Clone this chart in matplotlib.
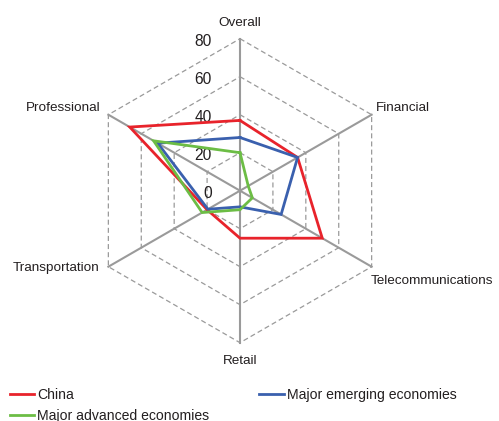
import numpy as np
import matplotlib
matplotlib.use("Agg")
import matplotlib.pyplot as plt

categories = ["Overall", "Financial", "Telecommunications", "Retail", "Transportation", "Professional"]
china = [37, 35, 50, 25, 20, 67]
emerging = [28, 35, 25, 8.5, 19.5, 50]
advanced = [20, 5, 7.5, 10, 23, 52.5]
rticks = [0, 20, 40, 60, 80]
series_names = ["China", "Major emerging economies", "Major advanced economies"]

plt.rcParams['font.family'] = ['Liberation Sans', 'DejaVu Sans']
FS = 9.7
TXT = '#231f20'
GRID = '#9a9a9a'

fig = plt.figure(figsize=(4.99, 4.21), dpi=100)
W, H = 499, 421
cx, cy, R = 240, 190.7, 152
ax = fig.add_axes([(cx - R) / W, (H - cy - R) / H, 2 * R / W, 2 * R / H], projection='polar')
ax.set_theta_zero_location('N')
ax.set_theta_direction(-1)
ax.set_ylim(0, 80)
ax.grid(False)
ax.spines['polar'].set_visible(False)
ax.set_xticks([])
ax.set_yticks([])
ax.patch.set_alpha(0)

n = len(categories)
theta = np.linspace(0, 2 * np.pi, n, endpoint=False)
theta_c = np.concatenate([theta, theta[:1]])

# dashed hexagon gridlines
for r in rticks[1:]:
    ax.plot(theta_c, [r] * (n + 1), color=GRID, lw=0.9, ls=(0, (4, 2.5)), zorder=1, clip_on=False)
# radial axes
for t in theta:
    ax.plot([t, t], [0, 80], color=GRID, lw=1.5, zorder=2, clip_on=False)

# tick labels
for r in rticks:
    ax.annotate(str(r), xy=(0, r), xytext=(-20.5, -1.8), textcoords='offset points',
                ha='right', va='center', fontsize=FS + 1.5, color=TXT)

# category labels
offsets = {
    "Overall": ((0, 11), 'center', 'center'),
    "Financial": ((3, 5), 'left', 'center'),
    "Telecommunications": ((-1, -10), 'left', 'center'),
    "Retail": ((0, -13.5), 'center', 'center'),
    "Transportation": ((-6.5, -1), 'right', 'center'),
    "Professional": ((-6, 5), 'right', 'center'),
}
for t, c in zip(theta, categories):
    off, ha, va = offsets[c]
    ax.annotate(c, xy=(t, 80), xytext=off, textcoords='offset points',
                ha=ha, va=va, fontsize=FS, color=TXT, annotation_clip=False)

colors = ['#e8232b', '#3a60ae', '#6cbd45']
lines = []
for vals, col, name in zip([china, emerging, advanced], colors, series_names):
    v = list(vals) + [vals[0]]
    ln, = ax.plot(theta_c, v, color=col, lw=2.0, zorder=3, label=name, clip_on=False,
                  solid_joinstyle='miter')
    lines.append(ln)

LFS = 10.05
leg = fig.legend([lines[0], lines[2], lines[1]],
                 [series_names[0], series_names[2], series_names[1]],
                 ncol=2, loc='upper left', bbox_to_anchor=(0.02, 0.078),
                 frameon=False, fontsize=LFS, handlelength=1.75, handletextpad=0.22,
                 columnspacing=3.55, labelspacing=0.5, borderpad=0, borderaxespad=0)
for t in leg.get_texts():
    t.set_color(TXT)

fig.savefig('out.png', dpi=100)
